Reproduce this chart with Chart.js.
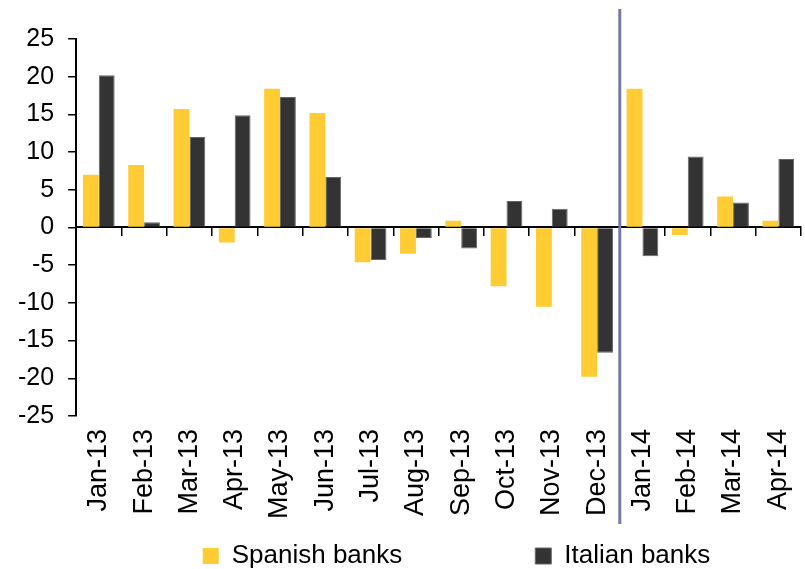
<!DOCTYPE html>
<html>
<head>
<meta charset="utf-8">
<script src="https://cdn.jsdelivr.net/npm/chart.js@4"></script>
<style>
  body { margin: 0; background: #fff; }
  canvas { display: block; }
</style>
</head>
<body>
<canvas id="bank-chart" width="805" height="569"></canvas>
<script>
const months = ['Jan-13', 'Feb-13', 'Mar-13', 'Apr-13', 'May-13', 'Jun-13', 'Jul-13', 'Aug-13',
  'Sep-13', 'Oct-13', 'Nov-13', 'Dec-13', 'Jan-14', 'Feb-14', 'Mar-14', 'Apr-14'];
const spanishBanks = [7.0, 8.3, 15.7, -2.0, 18.4, 15.2, -4.6, -3.5, 0.9, -7.8, -10.5, -19.8, 18.4, -1.0, 4.1, 0.9];
const italianBanks = [20.2, 0.7, 12.0, 14.9, 17.3, 6.7, -4.3, -1.4, -2.8, 3.5, 2.5, -16.6, -3.8, 9.4, 3.3, 9.1];
const yTicks = [-25, -20, -15, -10, -5, 0, 5, 10, 15, 20, 25];

const font = 'Liberation Sans, Arial, sans-serif';

// year separator between Dec-13 and Jan-14
const yearLine = {
  id: 'yearLine',
  afterDraw(chart) {
    const x = chart.scales.x;
    const px = (x.getPixelForValue(11) + x.getPixelForValue(12)) / 2;
    const ctx = chart.ctx;
    ctx.save();
    ctx.strokeStyle = '#7878a6';
    ctx.lineWidth = 3;
    ctx.beginPath();
    ctx.moveTo(px, chart.chartArea.top - 30);
    ctx.lineTo(px, chart.chartArea.bottom + 108);
    ctx.stroke();
    ctx.restore();
  }
};

// legend items sit right of centre with a wide gap
const legendShift = {
  id: 'legendShift',
  afterLayout(chart) {
    const lg = chart.legend;
    lg.left += 54;
    lg.right += 54;
    lg.top -= 122;
  }
};

new Chart(document.getElementById('bank-chart'), {
  type: 'bar',
  data: {
    labels: months,
    datasets: [{
      label: 'Spanish banks',
      data: spanishBanks,
      backgroundColor: '#ffcc33',
      borderWidth: 0
    }, {
      label: 'Italian banks',
      data: italianBanks,
      backgroundColor: '#333333',
      borderColor: '#666666',
      borderWidth: 1
    }]
  },
  plugins: [yearLine, legendShift],
  options: {
    responsive: false,
    animation: false,
    categoryPercentage: 0.7,
    barPercentage: 1.0,
    layout: { padding: { top: 39, left: 4, right: 4, bottom: 0 } },
    plugins: {
      tooltip: { enabled: false },
      legend: {
        position: 'bottom',
        maxHeight: 37,
        labels: {
          boxWidth: 16,
          boxHeight: 16,
          padding: 133,
          color: '#000',
          font: { family: font, size: 26 }
        }
      }
    },
    scales: {
      x: {
        afterFit: scale => { scale.paddingLeft = 0; scale.paddingRight = 0; },
        grid: { display: false, drawTicks: false },
        border: { display: false },
        ticks: {
          autoSkip: false,
          minRotation: 90,
          maxRotation: 90,
          padding: 13,
          color: '#000',
          font: { family: font, size: 27 }
        }
      },
      x2: {
        type: 'category',
        labels: months,
        position: { y: 0 },
        offset: true,
        grid: { offset: true, drawOnChartArea: false, drawTicks: true, tickLength: 8, color: '#000', lineWidth: 1.5 },
        border: { display: true, color: '#000', width: 2 },
        ticks: { display: false }
      },
      y: {
        min: -25,
        max: 25,
        afterBuildTicks: scale => { scale.ticks = yTicks.map(v => ({ value: v })); },
        grid: { drawOnChartArea: false, drawTicks: true, tickLength: 8, color: '#000', lineWidth: 1.5 },
        border: { display: true, color: '#000', width: 2 },
        ticks: {
          padding: 14,
          color: '#000',
          font: { family: font, size: 25 }
        }
      }
    }
  }
});
</script>
</body>
</html>
